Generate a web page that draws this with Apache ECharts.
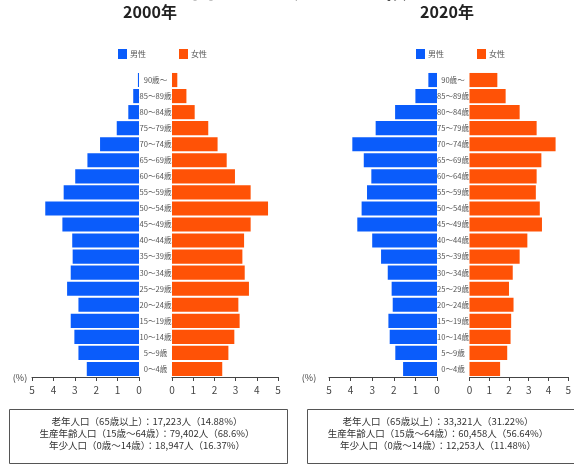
<!DOCTYPE html>
<html><head><meta charset="utf-8">
<script src="https://cdn.jsdelivr.net/npm/echarts@6/dist/echarts.min.js"></script>
<style>html,body{margin:0;padding:0;background:#fff}#c{width:574px;height:466px}</style>
</head><body><div id="c"></div>
<script>
var ageLabels = ['0～4歳','5～9歳','10～14歳','15～19歳','20～24歳','25～29歳','30～34歳','35～39歳','40～44歳','45～49歳','50～54歳','55～59歳','60～64歳','65～69歳','70～74歳','75～79歳','80～84歳','85～89歳','90歳～'];
var xTicks = [0,1,2,3,4,5];
var male2000 = [2.44,2.83,3.02,3.19,2.83,3.36,3.19,3.10,3.12,3.58,4.38,3.52,2.98,2.41,1.82,1.04,0.50,0.27,0.05];
var female2000 = [2.37,2.66,2.94,3.19,3.13,3.63,3.43,3.32,3.40,3.71,4.53,3.71,2.97,2.58,2.15,1.71,1.07,0.68,0.25];
var male2020 = [1.57,1.93,2.19,2.25,2.05,2.10,2.28,2.59,3.00,3.69,3.49,3.24,3.04,3.39,3.92,2.84,1.94,1.00,0.40];
var female2020 = [1.55,1.91,2.08,2.11,2.23,2.00,2.19,2.54,2.93,3.67,3.56,3.36,3.40,3.64,4.36,3.40,2.54,1.83,1.41];
var summary2000 = ['老年人口（65歳以上）：17,223人（14.88%）','生産年齢人口（15歳～64歳）：79,402人（68.6%）','年少人口（0歳～14歳）：18,947人（16.37%）'];
var summary2020 = ['老年人口（65歳以上）：33,321人（31.22%）','生産年齢人口（15歳～64歳）：60,458人（56.64%）','年少人口（0歳～14歳）：12,253人（11.48%）'];

var FONT = '"Noto Sans CJK JP", "Noto Sans", sans-serif';
var BLUE = '#0a5cfb', ORANGE = '#ff5206';
var chart = echarts.init(document.getElementById('c'));

var grids = [
  {left:32, width:107, top:72, height:305},
  {left:172, width:106, top:72, height:305},
  {left:329, width:108, top:72, height:305},
  {left:469.5, width:107, top:72, height:305}
];
var xAxes = grids.map(function(g,i){
  return {gridIndex:i, type:'value', min:0, max:5, interval:1, inverse:(i%2===0),
    axisLine:{show:true, lineStyle:{color:'#444', width:1}},
    axisTick:{show:true, length:4, lineStyle:{color:'#444'}},
    axisLabel:{color:'#444', fontSize:10, fontFamily:FONT, margin:8, showMaxLabel:true, showMinLabel:true},
    splitLine:{show:false}};
});
var yAxes = grids.map(function(g,i){
  var showLab = (i%2===1);
  return {gridIndex:i, type:'category', data:ageLabels,
    axisLine:{show:false}, axisTick:{show:false},
    axisLabel:{show:showLab, color:'#555', fontSize:7.6, fontFamily:FONT, align:'center', margin:16.5}};
});
function bar(name, data, idx, color){
  return {name:name, type:'bar', xAxisIndex:idx, yAxisIndex:idx, data:data, barCategoryGap:'12%',
    itemStyle:{color:color}, silent:true, animation:false};
}
var graphics = [
  {type:'text', left:'center', top:-23, style:{text:'人口ピラミッドの比較', font:'bold 24px '+FONT, fill:'#111'}},
  {type:'text', x:150, y:4, style:{text:'2000年', font:'bold 16px '+FONT, fill:'#222', textAlign:'center'}},
  {type:'text', x:447, y:4, style:{text:'2020年', font:'bold 16px '+FONT, fill:'#222', textAlign:'center'}},
  {type:'text', x:20, y:378, style:{text:'(%)', font:'9px '+FONT, fill:'#444', textAlign:'center', textVerticalAlign:'middle'}},
  {type:'text', x:309, y:378, style:{text:'(%)', font:'9px '+FONT, fill:'#444', textAlign:'center', textVerticalAlign:'middle'}},
  {type:'rect', shape:{x:9.5, y:409.5, width:278, height:54}, style:{fill:'none', stroke:'#555', lineWidth:1}},
  {type:'rect', shape:{x:307.5, y:409.5, width:280, height:54}, style:{fill:'none', stroke:'#555', lineWidth:1}}
];
[summary2000, summary2020].forEach(function(lines, k){
  var cx = k===0 ? 147 : 438;
  lines.forEach(function(t, j){
    graphics.push({type:'text', x:cx, y:421 + j*12, style:{text:t, font:'9.5px '+FONT, fill:'#333', textAlign:'center', textVerticalAlign:'middle'}});
  });
});

chart.setOption({
  animation:false,
  legend:[
    {left:113, top:44, itemWidth:9, itemHeight:10, itemGap:33, icon:'rect', data:['男性','女性'],
      textStyle:{fontSize:8, color:'#555', fontFamily:FONT, padding:[0,0,0,-2]}},
    {left:411, top:44, itemWidth:9, itemHeight:10, itemGap:33, icon:'rect', data:['男性','女性'],
      textStyle:{fontSize:8, color:'#555', fontFamily:FONT, padding:[0,0,0,-2]}}
  ],
  grid:grids,
  xAxis:xAxes,
  yAxis:yAxes,
  series:[
    bar('男性', male2000, 0, BLUE),
    bar('女性', female2000, 1, ORANGE),
    bar('男性', male2020, 2, BLUE),
    bar('女性', female2020, 3, ORANGE)
  ],
  graphic:graphics
});
</script></body></html>
